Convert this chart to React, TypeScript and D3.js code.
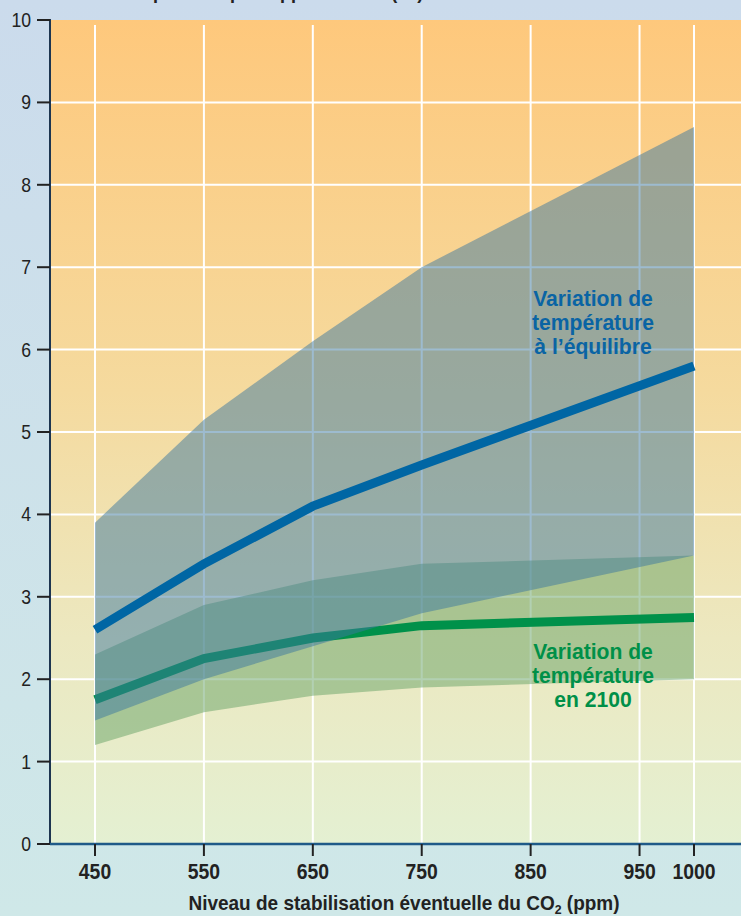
import React from "react";
import * as d3 from "d3";

const W = 741;
const H = 916;

// CO2 stabilisation levels (ppm)
const levels = [450, 550, 650, 750, 1000];
const tickLevels = [450, 550, 650, 750, 850, 950, 1000];
const yTicks = [0, 1, 2, 3, 4, 5, 6, 7, 8, 9, 10];

// Equilibrium temperature change range (grey band) and central estimate
const eqUpper = [3.9, 5.15, 6.1, 7.0, 8.7];
const eqLower = [1.5, 2.0, 2.4, 2.8, 3.5];
const eqMid = [2.6, 3.4, 4.1, 4.6, 5.8];

// Temperature change in 2100 range (green band) and central estimate
const y2100Upper = [2.3, 2.9, 3.2, 3.4, 3.5];
const y2100Lower = [1.2, 1.6, 1.8, 1.9, 2.0];
const y2100Mid = [1.75, 2.25, 2.5, 2.65, 2.75];

const eqLabel = ["Variation de", "température", "à l’équilibre"];
const y2100Label = ["Variation de", "température", "en 2100"];
const titleTop = "Variation de température par rapport à 1990 (°C)";

const FONT = "'Liberation Sans', Arial, Helvetica, sans-serif";

function SText(props: {
  x: number;
  y: number;
  sx: number;
  size: number;
  bold?: boolean;
  fill: string;
  anchor?: string;
  dy?: string;
  children: React.ReactNode;
}) {
  return (
    <text
      transform={`translate(${props.x},${props.y}) scale(${props.sx},1)`}
      fontSize={props.size}
      fontWeight={props.bold ? "bold" : "normal"}
      fill={props.fill}
      textAnchor={props.anchor || "start"}
      dy={props.dy}
    >
      {props.children}
    </text>
  );
}

export default function App() {
  const plotLeft = 50;
  const plotRight = W;
  const x = d3.scaleLinear().domain([450, 1000]).range([95, 694]);
  const y = d3.scaleLinear().domain([0, 10]).range([844, 20]);

  const area = (up: number[], lo: number[]) =>
    d3
      .area<number>()
      .x((d) => x(d))
      .y0((_, i) => y(lo[i]))
      .y1((_, i) => y(up[i]))(levels) as string;

  const line = (vals: number[]) =>
    d3
      .line<number>()
      .x((d) => x(d))
      .y((_, i) => y(vals[i]))(levels) as string;

  const plotTop = y(10);
  const plotBottom = y(0);

  return (
    <svg
      width={W}
      height={H}
      style={{ position: "absolute", left: 0, top: 0, display: "block" }}
      fontFamily={FONT}
    >
      <defs>
        <linearGradient id="pageBg" x1="0" y1="0" x2="0" y2="1">
          <stop offset="0" stopColor="#cbdbec" />
          <stop offset="1" stopColor="#cfe8e8" />
        </linearGradient>
        <linearGradient id="plotBg" x1="0" y1="0" x2="0" y2="1">
          <stop offset="0" stopColor="#fec87c" />
          <stop offset="0.45" stopColor="#f5da9e" />
          <stop offset="0.75" stopColor="#ece8c0" />
          <stop offset="1" stopColor="#e4f0d2" />
        </linearGradient>
      </defs>
      <rect x={0} y={0} width={W} height={H} fill="url(#pageBg)" />
      <text x={14} y={-1.5} fontSize={18} fontWeight="bold" fill="#222">
        {titleTop}
      </text>
      <rect
        x={plotLeft}
        y={plotTop}
        width={plotRight - plotLeft}
        height={plotBottom - plotTop}
        fill="url(#plotBg)"
      />
      {/* grid */}
      {yTicks
        .filter((t) => t > 0 && t < 10)
        .map((t) => (
          <line
            key={"hg" + t}
            x1={plotLeft}
            x2={plotRight}
            y1={y(t)}
            y2={y(t)}
            stroke="#fff"
            strokeWidth={2}
          />
        ))}
      {tickLevels.map((t) => (
        <line
          key={"vg" + t}
          x1={x(t)}
          x2={x(t)}
          y1={plotTop + 5}
          y2={plotBottom}
          stroke="#fff"
          strokeWidth={2}
        />
      ))}
      {/* 2100 band and line */}
      <path d={area(y2100Upper, y2100Lower)} fill="rgb(102,162,102)" fillOpacity={0.5} />
      <path d={line(y2100Mid)} fill="none" stroke="#00914a" strokeWidth={9} />
      {/* equilibrium band and line */}
      <path d={area(eqUpper, eqLower)} fill="rgb(60,120,160)" fillOpacity={0.5} />
      <path d={line(eqMid)} fill="none" stroke="#0066a4" strokeWidth={9} />
      {/* labels */}
      {eqLabel.map((s, i) => (
        <SText key={"eq" + i} x={593} y={306 + i * 24} sx={0.96} size={22} bold fill="#0a64a4" anchor="middle">
          {s}
        </SText>
      ))}
      {y2100Label.map((s, i) => (
        <SText key={"y2" + i} x={593} y={659 + i * 24} sx={0.96} size={22} bold fill="#009048" anchor="middle">
          {s}
        </SText>
      ))}
      {/* axes */}
      <line x1={plotLeft} x2={plotLeft} y1={plotTop - 1} y2={plotBottom} stroke="#1d3550" strokeWidth={2} />
      <line x1={plotLeft} x2={plotRight} y1={plotBottom} y2={plotBottom} stroke="#1f5a88" strokeWidth={2.5} />
      {yTicks.map((t) => (
        <g key={"yt" + t}>
          <line x1={37} x2={plotLeft} y1={y(t)} y2={y(t)} stroke="#222" strokeWidth={2} />
          <SText x={31} y={y(t)} sx={0.88} size={20} fill="#222" anchor="end" dy="0.35em">
            {t}
          </SText>
        </g>
      ))}
      {tickLevels.map((t) => (
        <g key={"xt" + t}>
          <line x1={x(t)} x2={x(t)} y1={plotBottom} y2={plotBottom + 12} stroke="#222" strokeWidth={2} />
          <SText x={x(t)} y={879} sx={0.88} size={22} bold fill="#222" anchor="middle">
            {t}
          </SText>
        </g>
      ))}
      <SText x={404} y={910} sx={0.95} size={20} bold fill="#222" anchor="middle">
        Niveau de stabilisation éventuelle du CO
        <tspan fontSize={13} dy={4}>2</tspan>
        <tspan dy={-4}> (ppm)</tspan>
      </SText>
    </svg>
  );
}
